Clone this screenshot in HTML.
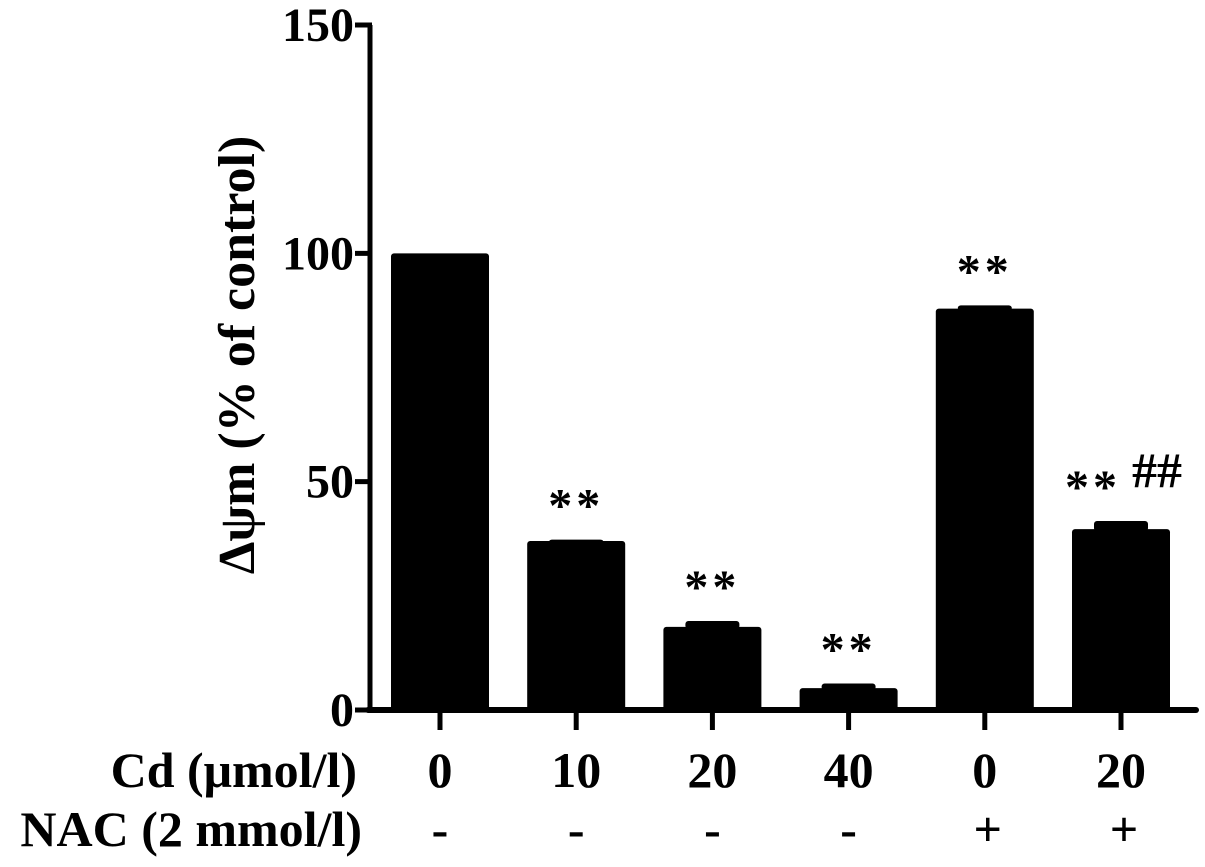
<!DOCTYPE html>
<html><head><meta charset="utf-8"><style>
html,body{margin:0;padding:0;background:#fff;}
svg{display:block;}
text{font-family:"Liberation Serif",serif;font-weight:bold;fill:#000;}
</style></head><body>
<svg id="chart" width="1205" height="867"></svg>
<script>
const categories = ["0","10","20","40","0","20"];
const nacLabels = ["-","-","-","-","+","+"];
const values = [100, 37, 18.2, 4.8, 87.9, 39.6];
const errors = [0, 0.3, 1.3, 1.0, 0.7, 1.8];
const marks = ["", "**", "**", "**", "**", "**"];
const yTicks = [0, 50, 100, 150];

const NS = "http://www.w3.org/2000/svg";
const svg = document.getElementById("chart");
const y0 = 710, yTop = 25, yMax = 150;
const yScale = v => y0 - (v / yMax) * (y0 - yTop);
const x0 = 440, step = 136.2;
const xScale = i => x0 + i * step;
const barW = 98;

function el(tag, attrs, name, inter) {
  const e = document.createElementNS(NS, tag);
  for (const k in attrs) e.setAttribute(k, attrs[k]);
  
  
  svg.appendChild(e);
  return e;
}
function txt(x, y, s, size, anchor, name, extra) {
  const t = el('text', Object.assign({x: x, y: y, 'font-size': size, 'text-anchor': anchor}, extra || {}), name, false);
  t.textContent = s;
  return t;
}

values.forEach((v, i) => {
  const cx = xScale(i);
  const top = yScale(v);
  const b = el('rect', {x: cx - barW / 2, y: top, width: barW, height: y0 - top, rx: 3, fill: '#000'}, 'bar-' + i, false);
  
  if (errors[i] > 0) {
    const et = yScale(v + errors[i]);
    const eb = el('rect', {x: cx - 27, y: et, width: 54, height: top - et + 2, rx: 3, fill: '#000'}, 'error-bar-' + i, false);
    
  }
  if (marks[i]) {
    const mx = i === 5 ? cx - 28 : cx;
    const m = txt(mx, yScale(v + errors[i]) - 18, marks[i], 48, 'middle', 'significance-mark-' + i, {'font-family': '"Liberation Sans", sans-serif', 'font-weight': 'normal', 'letter-spacing': '4'});
    
  }
  const tk = el('line', {x1: cx, y1: y0, x2: cx, y2: y0 + 20, stroke: '#000', 'stroke-width': 5}, 'x-tick-' + i, false);
  
  const cl = txt(cx, 787, categories[i], 50, 'middle', 'cd-label-' + i);
  
  const nl = txt(cx + (nacLabels[i] === '+' ? 3 : 0), 846, nacLabels[i], 50, 'middle', 'nac-label-' + i, {'font-weight': nacLabels[i] === '+' ? 'normal' : 'bold'});
  
});
txt(1157, 487, "##", 50, 'middle', 'hash-mark', {'font-family': '"Liberation Serif", serif', 'font-weight': 'normal'});

el('line', {x1: 370, y1: yTop, x2: 370, y2: y0 + 2.5, stroke: '#000', 'stroke-width': 5}, 'y-axis', false);
el('line', {x1: 368, y1: y0, x2: 1196, y2: y0, stroke: '#000', 'stroke-width': 6, 'stroke-linecap': 'round'}, 'x-axis', false);
yTicks.forEach(t => {
  const y = yScale(t);
  const l = el('line', {x1: 355, y1: y, x2: 372, y2: y, stroke: '#000', 'stroke-width': 5}, 'y-tick-' + t, false);
  
  const lb = txt(354, y + 16, String(t), 48, 'end', 'y-tick-label-' + t);
  
});

txt(0, 0, "Δψm (% of control)", 52, 'middle', 'y-axis-title', {transform: 'translate(254,355) rotate(-90)'});
txt(357, 787, "Cd (μmol/l)", 50, 'end', 'cd-row-title');
txt(362, 846, "NAC (2 mmol/l)", 50, 'end', 'nac-row-title');
</script>
</body></html>
